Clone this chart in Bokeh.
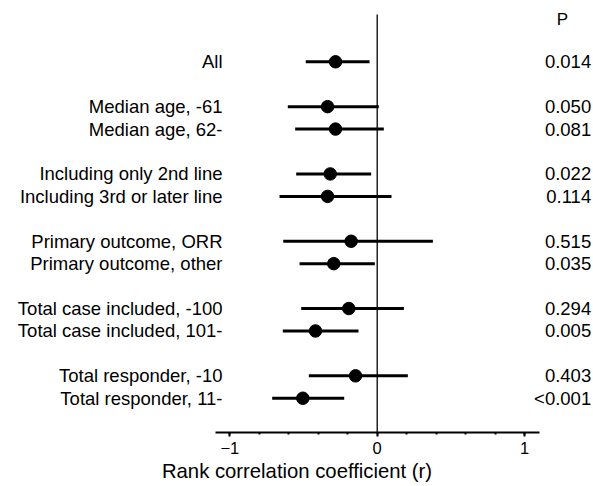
from bokeh.plotting import figure
from bokeh.models import ColumnDataSource, Range1d, FixedTicker
from bokeh.core.properties import value
from bokeh.embed import file_html
from bokeh.resources import INLINE

labels = ["All", "Median age, -61", "Median age, 62-", "Including only 2nd line",
          "Including 3rd or later line", "Primary outcome, ORR", "Primary outcome, other",
          "Total case included, -100", "Total case included, 101-",
          "Total responder, -10", "Total responder, 11-"]
rows = [0, 2, 3, 5, 6, 8, 9, 11, 12, 14, 15]
r_est = [-0.283, -0.337, -0.283, -0.319, -0.337, -0.177, -0.295, -0.193, -0.419, -0.147, -0.505]
ci_lo = [-0.485, -0.607, -0.557, -0.550, -0.663, -0.638, -0.527, -0.516, -0.641, -0.464, -0.713]
ci_hi = [-0.052, 0.011, 0.045, -0.041, 0.097, 0.378, -0.016, 0.181, -0.127, 0.208, -0.224]
p_vals = ["0.014", "0.050", "0.081", "0.022", "0.114", "0.515", "0.035", "0.294", "0.005", "0.403", "<0.001"]
major_ticks = [-1, 0, 1]
minor_ticks = [-1.0, -0.8, -0.6, -0.4, -0.2, 0.0, 0.2, 0.4, 0.6, 0.8, 1.0]

FONT = "Liberation Sans"

src = ColumnDataSource(dict(label=labels, row=rows, r=r_est, lo=ci_lo, hi=ci_hi, p=p_vals))

Y_TOP, Y_BOTTOM = -2.733, 16.527

p = figure(width=593, height=486, output_backend="svg", toolbar_location=None,
           x_range=Range1d(-2.5574, 1.4684), y_range=Range1d(Y_BOTTOM, Y_TOP),
           min_border_left=0, min_border_right=0, min_border_top=0, min_border_bottom=54)
p.yaxis.visible = False
p.xgrid.visible = False
p.ygrid.visible = False
p.outline_line_color = None
p.background_fill_color = "white"
p.border_fill_color = "white"

ax = p.xaxis[0]
ax.bounds = (-1.1, 1.1)
ax.ticker = FixedTicker(ticks=major_ticks, minor_ticks=minor_ticks)
ax.axis_line_width = 2
ax.axis_line_color = "black"
ax.major_tick_line_width = 2
ax.major_tick_line_color = "black"
ax.minor_tick_line_width = 2
ax.minor_tick_line_color = "black"
ax.major_tick_in = 0
ax.major_tick_out = 4
ax.minor_tick_in = 0
ax.minor_tick_out = 2
ax.major_label_text_font = FONT
ax.major_label_text_font_size = "16.5px"
ax.major_label_text_color = "black"
ax.major_label_standoff = 5
ax.axis_label = "Rank correlation coefficient (r)"
ax.axis_label_text_font = FONT
ax.axis_label_text_font_size = "20.3px"
ax.axis_label_text_font_style = "normal"
ax.axis_label_text_color = "black"
ax.axis_label_standoff = 3

# reference line at r = 0
p.segment(x0=[0], y0=[-2.11], x1=[0], y1=[Y_BOTTOM], line_color="black", line_width=1.3)

p.segment(x0="lo", y0="row", x1="hi", y1="row", source=src, line_color="black", line_width=3)
p.scatter(x="r", y="row", source=src, size=12.5, fill_color="black", line_color="black")

p.text(x=-1.0502, y="row", text="label", source=src, text_align="right", text_baseline="middle",
       text_font=value(FONT), text_font_size="18.5px", text_color="black")
p.text(x=1.4528, y="row", text="p", source=src, text_align="right", text_baseline="middle",
       text_font=value(FONT), text_font_size="18.5px", text_color="black")
p.text(x=[1.257], y=[-1.886], text=["P"], text_align="center", text_baseline="middle",
       text_font=value(FONT), text_font_size="17px", text_color="black")

open("out.html", "w").write(file_html(p, INLINE))
